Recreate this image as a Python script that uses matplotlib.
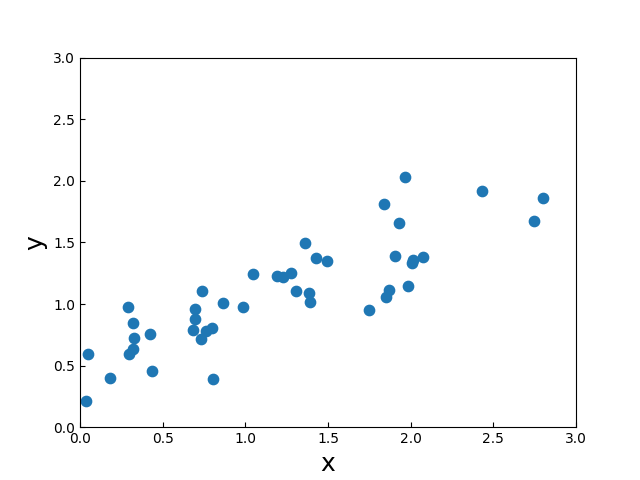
import numpy as np
from matplotlib import pyplot as plt

x = [0.036, 0.048, 0.181, 0.290, 0.296, 0.321, 0.321, 0.327, 0.423, 0.435,
     0.683, 0.696, 0.696, 0.732, 0.738, 0.762, 0.798, 0.804, 0.865, 0.986,
     1.046, 1.192, 1.228, 1.276, 1.306, 1.361, 1.385, 1.391, 1.427, 1.494,
     1.748, 1.839, 1.851, 1.869, 1.905, 1.929, 1.966, 1.984, 2.008, 2.014,
     2.075, 2.431, 2.746, 2.800]
y = [0.211, 0.593, 0.398, 0.976, 0.593, 0.634, 0.846, 0.724, 0.756, 0.455,
     0.789, 0.878, 0.959, 0.715, 1.106, 0.780, 0.805, 0.390, 1.008, 0.976,
     1.244, 1.228, 1.220, 1.252, 1.106, 1.496, 1.089, 1.016, 1.374, 1.350,
     0.951, 1.813, 1.057, 1.114, 1.390, 1.659, 2.033, 1.146, 1.333, 1.358,
     1.382, 1.919, 1.675, 1.862]

fig, ax = plt.subplots(figsize=(6.4, 4.8), dpi=100)
ax.scatter(x, y, s=55)

ax.set_xlim(0, 3)
ax.set_ylim(0, 3)
ax.set_xlabel('x', fontsize=18)
ax.set_ylabel('y', fontsize=18)
ax.tick_params(direction='in')

fig.savefig('out.png')
